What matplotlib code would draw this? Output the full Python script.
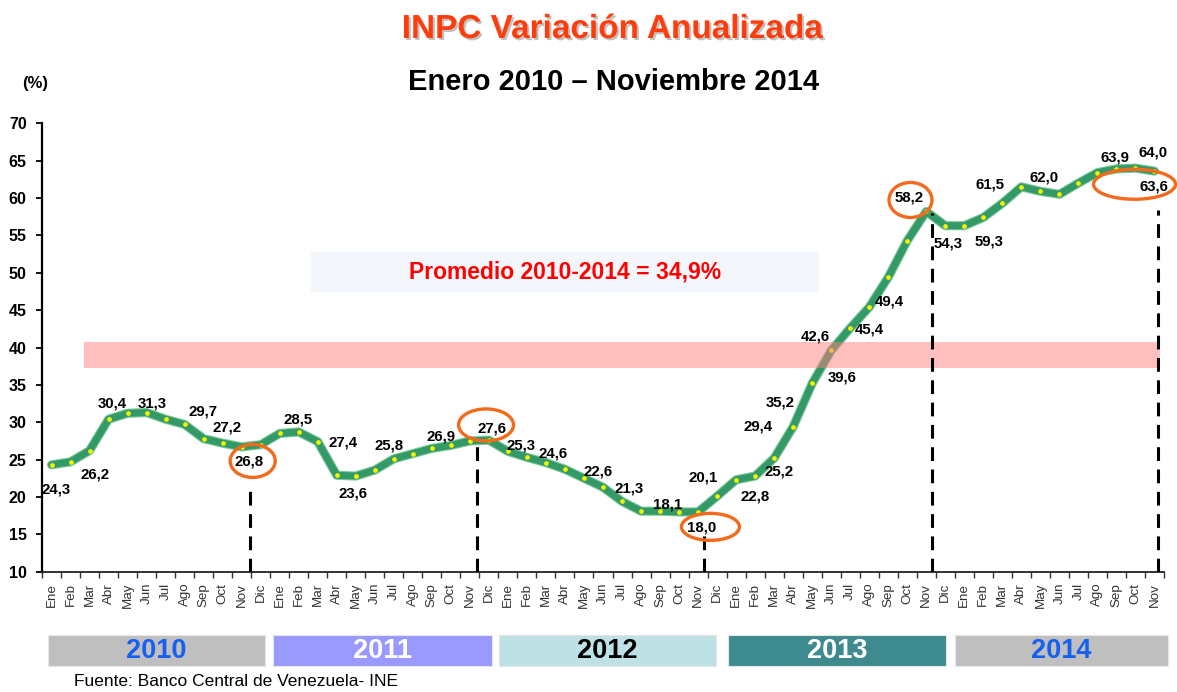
import matplotlib
matplotlib.use("Agg")
import matplotlib.pyplot as plt
from matplotlib.patches import Ellipse, Rectangle
import matplotlib.patheffects as pe

# ---------------- data ----------------
months = ["Ene", "Feb", "Mar", "Abr", "May", "Jun", "Jul", "Ago", "Sep", "Oct", "Nov", "Dic"]
month_labels = months * 4 + months[:11]

inpc_2010 = [24.3, 24.7, 26.2, 30.4, 31.2, 31.3, 30.4, 29.7, 27.8, 27.2, 26.7, 27.0]
inpc_2011 = [28.5, 28.7, 27.4, 22.9, 22.8, 23.6, 25.1, 25.8, 26.5, 26.9, 27.5, 27.6]
inpc_2012 = [26.1, 25.3, 24.6, 23.7, 22.5, 21.3, 19.4, 18.1, 18.1, 18.0, 18.0, 20.1]
inpc_2013 = [22.3, 22.8, 25.2, 29.4, 35.2, 39.6, 42.6, 45.4, 49.4, 54.3, 58.2, 56.3]
inpc_2014 = [56.3, 57.4, 59.3, 61.5, 60.9, 60.5, 62.0, 63.4, 63.9, 64.0, 63.6]
values = inpc_2010 + inpc_2011 + inpc_2012 + inpc_2013 + inpc_2014

label_texts = ["24,3", "26,2", "30,4", "31,3", "29,7", "27,2", "26,8", "28,5", "27,4", "23,6",
               "25,8", "26,9", "27,6", "25,3", "24,6", "22,6", "21,3", "18,1", "18,0", "20,1",
               "22,8", "29,4", "25,2", "35,2", "42,6", "39,6", "45,4", "49,4", "58,2", "54,3",
               "59,3", "61,5", "62,0", "63,9", "64,0", "63,6"]

years = ["2010", "2011", "2012", "2013", "2014"]
promedio_text = "Promedio 2010-2014 = 34,9%"

# ---------------- layout / style ----------------
W, H = 1177, 692
FONT = "Liberation Sans"
plt.rcParams["font.family"] = [FONT, "DejaVu Sans"]

fig = plt.figure(figsize=(W / 100, H / 100), dpi=100)
fig.patch.set_facecolor("white")

def fx(px):
    return px / W

def fy(py):
    return 1 - py / H

ax_l, ax_r, ax_t, ax_b = 42, 1164, 123.3, 571.7
ax = fig.add_axes([fx(ax_l), fy(ax_b), fx(ax_r - ax_l), (ax_b - ax_t) / H])

n = len(values)
xs = list(range(n))
ax.set_xlim(-0.5, n - 0.5)
ax.set_ylim(10, 70)

# label positions (index, value) in data coords
label_pos = [(0.23, 21.0), (2.28, 22.95), (3.21, 32.55), (5.32, 32.55), (7.99, 31.5),
             (9.24, 29.35), (10.4, 24.75), (12.98, 30.4), (15.34, 27.3), (15.87, 20.4),
             (17.76, 26.95), (20.5, 28.1), (23.15, 29.2), (24.69, 26.95), (26.39, 25.85),
             (28.72, 23.4), (30.35, 21.15), (32.4, 19.05), (34.16, 15.9), (34.25, 22.65),
             (37.02, 20.05), (37.14, 29.4), (38.28, 23.4), (38.32, 32.6), (40.17, 41.45),
             (41.6, 36.0), (43.0, 42.45), (44.06, 46.1), (45.08, 60.05), (47.13, 53.95),
             (49.29, 54.25), (49.33, 61.75), (52.17, 62.8), (55.9, 65.45), (57.95, 66.1),
             (57.95, 61.5)]

# light box behind promedio text
ax.add_patch(Rectangle((13.65, 47.47), 40.35 - 13.65, 52.82 - 47.47,
                       facecolor="#f3f7fc", edgecolor="none", zorder=1))
ax.text((13.65 + 40.35) / 2, 50.15, promedio_text, color="#ff0000", fontsize=16.5,
        fontweight="bold", ha="center", va="center", zorder=2)

# main line
ax.plot(xs, values, color="#7cc79a", lw=6.6, solid_joinstyle="round",
        solid_capstyle="round", zorder=3)
ax.plot(xs, values, color="#339966", lw=5.0, solid_joinstyle="round",
        solid_capstyle="round", zorder=4, marker="o", markersize=2.4,
        markerfacecolor="#f4f400", markeredgecolor="#f4f400")

# pink band (semi-transparent over line)
ax.add_patch(Rectangle((1.72, 37.22), 58.27 - 1.72, 40.78 - 37.22,
                       facecolor="#ff8080", alpha=0.5, edgecolor="none", zorder=5))

# dashed separators
dash_lines = [(10.44, 21.8), (22.38, 27.6), (34.33, 15.15), (46.31, 58.0), (58.2, 58.4)]
for xd, ytop in dash_lines:
    ax.plot([xd, xd], [10, ytop], color="black", lw=2.2, ls=(0, (4.5, 2.8)), zorder=6)

# data labels
for t, (lx, ly) in zip(label_texts, label_pos):
    ax.text(lx, ly, t, fontsize=10.8, fontweight="bold", ha="center", va="center",
            color="black", zorder=8)

# orange ellipses
ellipses = [(10.58, 24.82, 2.37, 4.41), (22.85, 29.64, 2.89, 4.28), (34.65, 16.0, 3.05, 3.61),
            (45.17, 59.74, 2.26, 4.68), (56.95, 61.84, 4.31, 4.01)]
for cx, cy, ew, eh in ellipses:
    ax.add_patch(Ellipse((cx, cy), ew, eh, facecolor="none", edgecolor="#f26a1b",
                         lw=2.4, zorder=7, clip_on=False))

# axes styling
for s in ["top", "right"]:
    ax.spines[s].set_visible(False)
ax.spines["left"].set_linewidth(1.6)
ax.spines["bottom"].set_linewidth(1.3)
ax.spines["bottom"].set_color("#222222")

ax.set_yticks(range(10, 71, 5))
ax.tick_params(axis="y", direction="out", length=4, width=1.3, pad=7, labelsize=11.5)
for lab in ax.get_yticklabels():
    lab.set_fontweight("bold")

ax.set_xticks(xs)
ax.set_xticklabels(month_labels, rotation=90, fontsize=9.6, color="#333333")
ax.tick_params(axis="x", which="major", length=0, pad=8)
ax.set_xticks([i - 0.5 for i in range(n + 1)], minor=True)
ax.tick_params(axis="x", which="minor", direction="out", length=4.5, width=1.0, color="#333333")

# titles
fig.text(fx(613), fy(29.5), "INPC Variación Anualizada", color="#ff3c0c", fontsize=24,
         fontweight="bold", ha="center", va="center",
         path_effects=[pe.withSimplePatchShadow(offset=(1.5, -1.5), shadow_rgbFace="#999999", alpha=0.6)])
fig.text(fx(614), fy(81.5), "Enero 2010 \u2013 Noviembre 2014", color="black", fontsize=21,
         fontweight="bold", ha="center", va="center")
fig.text(fx(35), fy(83.5), "(%)", color="black", fontsize=12, fontweight="bold",
         ha="center", va="center")

# year boxes
year_boxes = [(47.7, 265, "#bfbfbf", "#1560f0"), (272.7, 492, "#9999ff", "white"),
              (499, 716, "#bde1e4", "black"), (728, 946, "#3d8b8f", "white"),
              (955, 1168, "#bfbfbf", "#1560f0")]
for yr, (x0, x1, fc, tc) in zip(years, year_boxes):
    fig.patches.append(Rectangle((fx(x0), fy(666)), fx(x1 - x0), (666 - 635) / H,
                                 transform=fig.transFigure, facecolor=fc,
                                 edgecolor="#e6e6e6", lw=0.8))
    fig.text(fx((x0 + x1) / 2), fy(650.5), yr, color=tc, fontsize=19.5, fontweight="bold",
             ha="center", va="center")

fig.text(fx(74), fy(682), "Fuente: Banco Central de Venezuela- INE", fontsize=12.5,
         ha="left", va="center", color="black")

fig.savefig("out.png", dpi=100, facecolor="white")
